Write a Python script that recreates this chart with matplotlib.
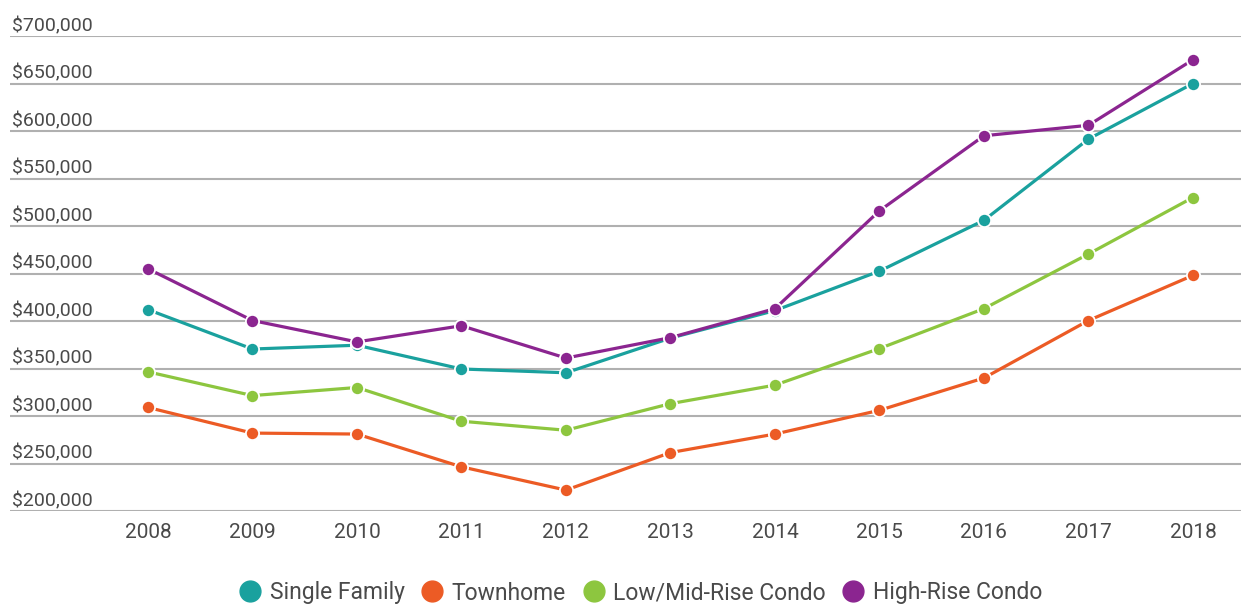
import matplotlib
matplotlib.use("Agg")
import matplotlib.pyplot as plt
from matplotlib.lines import Line2D

years = [2008, 2009, 2010, 2011, 2012, 2013, 2014, 2015, 2016, 2017, 2018]
single_family = [412000, 370500, 374500, 349500, 345500, 382000, 411000, 452500, 506000, 591500, 650000]
townhome = [309000, 282000, 281000, 246500, 222000, 261500, 281000, 306000, 340000, 400500, 448000]
low_mid_condo = [346500, 321500, 330000, 294500, 285000, 313000, 332500, 371000, 413000, 470500, 530000]
high_rise_condo = [455000, 400500, 378000, 395000, 361000, 382500, 413000, 516000, 595000, 606000, 675000]

series_names = ["Single Family", "Townhome", "Low/Mid-Rise Condo", "High-Rise Condo"]
colors = ["#1AA19E", "#EC5B25", "#8DC63F", "#8B2590"]
y_ticks = [200000, 250000, 300000, 350000, 400000, 450000, 500000, 550000, 600000, 650000, 700000]

plt.rcParams["font.family"] = ["Roboto", "DejaVu Sans"]

W, H = 1241, 608
fig = plt.figure(figsize=(W / 100, H / 100), dpi=100)
left, right, top, bot = 10, 1241, 36, 511
ax = fig.add_axes([left / W, 1 - bot / H, (right - left) / W, (bot - top) / H])

ax.set_xlim(2006.68, 2018.46)
ax.set_ylim(200000, 700000)
for s in ax.spines.values():
    s.set_visible(False)
ax.set_yticks(y_ticks)
ax.yaxis.grid(True, color="#b0b0b0", linewidth=1.5)
ax.set_axisbelow(True)
ax.tick_params(axis="y", length=0, labelleft=False)
ax.tick_params(axis="x", length=0, labelsize=15, labelcolor="#4a4a4a", pad=9)
ax.set_xticks(years)

# y labels sit on top of their gridlines, inside the plot
for t in y_ticks:
    ax.annotate(f"${t:,}", xy=(0, t), xycoords=("axes fraction", "data"),
                xytext=(1.5, 3.6), textcoords="offset points", va="baseline", ha="left",
                fontsize=14, color="#4a4a4a")

all_series = [single_family, townhome, low_mid_condo, high_rise_condo]
for vals, c in zip(all_series, colors):
    ax.plot(years, vals, color=c, linewidth=2.3, marker="o", markersize=9.5,
            markeredgecolor="white", markeredgewidth=1.3, clip_on=False, zorder=3)

handles = [Line2D([], [], linestyle="none", marker="o", markersize=15,
                  markerfacecolor=c, markeredgecolor=c) for c in colors]
fig.legend(handles, series_names, loc="center", bbox_to_anchor=(640 / W, 1 - 593 / H),
           ncol=4, frameon=False, fontsize=16.5, handletextpad=0.3,
           columnspacing=0.65, handlelength=1.1, labelcolor="#4a4a4a")

fig.savefig("out.png", dpi=100, facecolor="white")
